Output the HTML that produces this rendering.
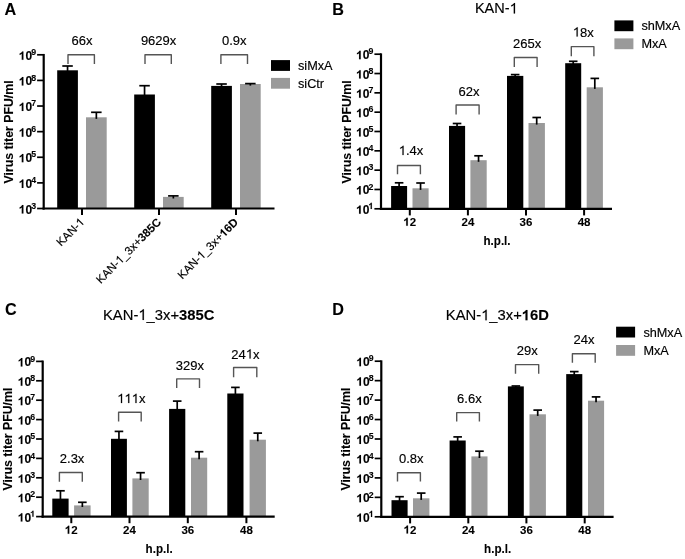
<!DOCTYPE html>
<html><head><meta charset="utf-8"><title>Virus titer figure</title>
<style>
html,body{margin:0;padding:0;background:#fff;}
body{width:685px;height:559px;overflow:hidden;}
svg{display:block;will-change:transform;}
text{font-family:"Liberation Sans", sans-serif;fill:#000;stroke:#000;stroke-width:0.15px;}
text[font-weight="bold"],tspan[font-weight="bold"]{stroke-width:0.1px;}
</style></head>
<body>
<svg width="685" height="559" viewBox="0 0 685 559">
<rect x="0" y="0" width="685" height="559" fill="#fff"/>
<text x="4.60" y="14.80" font-size="16.2" font-weight="bold" text-anchor="start" >A</text>
<text transform="translate(13.20,131.90) rotate(-90)" font-size="12.3" font-weight="bold" text-anchor="middle">Virus titer PFU/ml</text>
<line x1="43.70" y1="53.95" x2="43.70" y2="209.60" stroke="#000" stroke-width="2.2" stroke-linecap="butt"/>
<line x1="37.10" y1="54.80" x2="43.70" y2="54.80" stroke="#000" stroke-width="1.7" stroke-linecap="butt"/>
<text x="36.10" y="59.80" font-size="12" font-weight="bold" text-anchor="end"> 0<tspan font-size="8.8" dx="-1.0" dy="-4.8">9</tspan></text>
<line x1="37.10" y1="80.42" x2="43.70" y2="80.42" stroke="#000" stroke-width="1.7" stroke-linecap="butt"/>
<text x="36.10" y="85.42" font-size="12" font-weight="bold" text-anchor="end"> 0<tspan font-size="8.8" dx="-1.0" dy="-4.8">8</tspan></text>
<line x1="37.10" y1="106.03" x2="43.70" y2="106.03" stroke="#000" stroke-width="1.7" stroke-linecap="butt"/>
<text x="36.10" y="111.03" font-size="12" font-weight="bold" text-anchor="end"> 0<tspan font-size="8.8" dx="-1.0" dy="-4.8">7</tspan></text>
<line x1="37.10" y1="131.65" x2="43.70" y2="131.65" stroke="#000" stroke-width="1.7" stroke-linecap="butt"/>
<text x="36.10" y="136.65" font-size="12" font-weight="bold" text-anchor="end"> 0<tspan font-size="8.8" dx="-1.0" dy="-4.8">6</tspan></text>
<line x1="37.10" y1="157.27" x2="43.70" y2="157.27" stroke="#000" stroke-width="1.7" stroke-linecap="butt"/>
<text x="36.10" y="162.27" font-size="12" font-weight="bold" text-anchor="end"> 0<tspan font-size="8.8" dx="-1.0" dy="-4.8">5</tspan></text>
<line x1="37.10" y1="182.88" x2="43.70" y2="182.88" stroke="#000" stroke-width="1.7" stroke-linecap="butt"/>
<text x="36.10" y="187.88" font-size="12" font-weight="bold" text-anchor="end"> 0<tspan font-size="8.8" dx="-1.0" dy="-4.8">4</tspan></text>
<line x1="37.10" y1="208.50" x2="43.70" y2="208.50" stroke="#000" stroke-width="1.7" stroke-linecap="butt"/>
<text x="36.10" y="213.50" font-size="12" font-weight="bold" text-anchor="end"> 0<tspan font-size="8.8" dx="-1.0" dy="-4.8">3</tspan></text>
<rect x="57.20" y="70.30" width="20.70" height="138.20" fill="#000"/>
<line x1="67.55" y1="66.00" x2="67.55" y2="71.90" stroke="#000" stroke-width="1.7" stroke-linecap="butt"/>
<line x1="62.30" y1="66.00" x2="72.80" y2="66.00" stroke="#000" stroke-width="1.7" stroke-linecap="butt"/>
<rect x="86.00" y="117.30" width="20.70" height="91.20" fill="#9a9a9a"/>
<line x1="96.35" y1="112.30" x2="96.35" y2="118.90" stroke="#000" stroke-width="1.7" stroke-linecap="butt"/>
<line x1="91.10" y1="112.30" x2="101.60" y2="112.30" stroke="#000" stroke-width="1.7" stroke-linecap="butt"/>
<rect x="134.20" y="94.50" width="20.70" height="114.00" fill="#000"/>
<line x1="144.55" y1="85.70" x2="144.55" y2="96.10" stroke="#000" stroke-width="1.7" stroke-linecap="butt"/>
<line x1="139.30" y1="85.70" x2="149.80" y2="85.70" stroke="#000" stroke-width="1.7" stroke-linecap="butt"/>
<rect x="163.00" y="196.90" width="20.70" height="11.60" fill="#9a9a9a"/>
<line x1="173.35" y1="195.90" x2="173.35" y2="198.50" stroke="#000" stroke-width="1.7" stroke-linecap="butt"/>
<line x1="168.10" y1="195.90" x2="178.60" y2="195.90" stroke="#000" stroke-width="1.7" stroke-linecap="butt"/>
<rect x="211.20" y="85.90" width="20.70" height="122.60" fill="#000"/>
<line x1="221.55" y1="84.00" x2="221.55" y2="87.50" stroke="#000" stroke-width="1.7" stroke-linecap="butt"/>
<line x1="216.30" y1="84.00" x2="226.80" y2="84.00" stroke="#000" stroke-width="1.7" stroke-linecap="butt"/>
<rect x="240.00" y="84.00" width="20.70" height="124.50" fill="#9a9a9a"/>
<line x1="250.35" y1="83.60" x2="250.35" y2="85.60" stroke="#000" stroke-width="1.7" stroke-linecap="butt"/>
<line x1="245.10" y1="83.60" x2="255.60" y2="83.60" stroke="#000" stroke-width="1.7" stroke-linecap="butt"/>
<line x1="42.60" y1="208.50" x2="274.50" y2="208.50" stroke="#000" stroke-width="2.2" stroke-linecap="butt"/>
<line x1="82.00" y1="208.50" x2="82.00" y2="215.10" stroke="#000" stroke-width="2" stroke-linecap="butt"/>
<line x1="159.00" y1="208.50" x2="159.00" y2="215.10" stroke="#000" stroke-width="2" stroke-linecap="butt"/>
<line x1="236.00" y1="208.50" x2="236.00" y2="215.10" stroke="#000" stroke-width="2" stroke-linecap="butt"/>
<path d="M68.00,64.10 V54.70 H94.40 V64.10" fill="none" stroke="#555" stroke-width="1.4" stroke-linejoin="round"/>
<text x="82.00" y="45.00" font-size="13" font-weight="normal" text-anchor="middle" >66x</text>
<path d="M145.00,64.10 V54.70 H171.30 V64.10" fill="none" stroke="#555" stroke-width="1.4" stroke-linejoin="round"/>
<text x="158.60" y="45.00" font-size="13" font-weight="normal" text-anchor="middle" >9629x</text>
<path d="M220.90,64.10 V54.70 H247.50 V64.10" fill="none" stroke="#555" stroke-width="1.4" stroke-linejoin="round"/>
<text x="234.30" y="45.00" font-size="13" font-weight="normal" text-anchor="middle" >0.9x</text>
<rect x="271.00" y="60.10" width="19.00" height="10.80" fill="#000"/>
<rect x="271.00" y="77.90" width="19.00" height="10.80" fill="#9a9a9a"/>
<text x="298.00" y="69.90" font-size="12.7" font-weight="normal" text-anchor="start" >siMxA</text>
<text x="298.00" y="87.70" font-size="12.7" font-weight="normal" text-anchor="start" >siCtr</text>
<text transform="translate(85.00,222.90) rotate(-45)" font-size="11.5" text-anchor="end">KAN- </text>
<text transform="translate(162.00,222.90) rotate(-45)" font-size="11.5" text-anchor="end">KAN- _3x+<tspan font-weight="bold">385C</tspan></text>
<text transform="translate(239.00,222.90) rotate(-45)" font-size="11.5" text-anchor="end">KAN- _3x+<tspan font-weight="bold"> 6D</tspan></text>
<text x="332.20" y="14.80" font-size="16.2" font-weight="bold" text-anchor="start" >B</text>
<text x="496.30" y="13.40" font-size="14.5" font-weight="normal" text-anchor="middle" >KAN- </text>
<text transform="translate(350.60,131.90) rotate(-90)" font-size="12.3" font-weight="bold" text-anchor="middle">Virus titer PFU/ml</text>
<line x1="381.00" y1="53.35" x2="381.00" y2="209.90" stroke="#000" stroke-width="2.2" stroke-linecap="butt"/>
<line x1="374.40" y1="54.20" x2="381.00" y2="54.20" stroke="#000" stroke-width="1.7" stroke-linecap="butt"/>
<text x="373.40" y="59.20" font-size="12" font-weight="bold" text-anchor="end"> 0<tspan font-size="8.8" dx="-1.0" dy="-4.8">9</tspan></text>
<line x1="374.40" y1="73.53" x2="381.00" y2="73.53" stroke="#000" stroke-width="1.7" stroke-linecap="butt"/>
<text x="373.40" y="78.53" font-size="12" font-weight="bold" text-anchor="end"> 0<tspan font-size="8.8" dx="-1.0" dy="-4.8">8</tspan></text>
<line x1="374.40" y1="92.85" x2="381.00" y2="92.85" stroke="#000" stroke-width="1.7" stroke-linecap="butt"/>
<text x="373.40" y="97.85" font-size="12" font-weight="bold" text-anchor="end"> 0<tspan font-size="8.8" dx="-1.0" dy="-4.8">7</tspan></text>
<line x1="374.40" y1="112.18" x2="381.00" y2="112.18" stroke="#000" stroke-width="1.7" stroke-linecap="butt"/>
<text x="373.40" y="117.18" font-size="12" font-weight="bold" text-anchor="end"> 0<tspan font-size="8.8" dx="-1.0" dy="-4.8">6</tspan></text>
<line x1="374.40" y1="131.50" x2="381.00" y2="131.50" stroke="#000" stroke-width="1.7" stroke-linecap="butt"/>
<text x="373.40" y="136.50" font-size="12" font-weight="bold" text-anchor="end"> 0<tspan font-size="8.8" dx="-1.0" dy="-4.8">5</tspan></text>
<line x1="374.40" y1="150.83" x2="381.00" y2="150.83" stroke="#000" stroke-width="1.7" stroke-linecap="butt"/>
<text x="373.40" y="155.83" font-size="12" font-weight="bold" text-anchor="end"> 0<tspan font-size="8.8" dx="-1.0" dy="-4.8">4</tspan></text>
<line x1="374.40" y1="170.15" x2="381.00" y2="170.15" stroke="#000" stroke-width="1.7" stroke-linecap="butt"/>
<text x="373.40" y="175.15" font-size="12" font-weight="bold" text-anchor="end"> 0<tspan font-size="8.8" dx="-1.0" dy="-4.8">3</tspan></text>
<line x1="374.40" y1="189.48" x2="381.00" y2="189.48" stroke="#000" stroke-width="1.7" stroke-linecap="butt"/>
<text x="373.40" y="194.48" font-size="12" font-weight="bold" text-anchor="end"> 0<tspan font-size="8.8" dx="-1.0" dy="-4.8">2</tspan></text>
<line x1="374.40" y1="208.80" x2="381.00" y2="208.80" stroke="#000" stroke-width="1.7" stroke-linecap="butt"/>
<text x="373.40" y="213.80" font-size="12" font-weight="bold" text-anchor="end"> 0<tspan font-size="8.8" dx="-1.0" dy="-4.8"> </tspan></text>
<rect x="391.10" y="186.00" width="16.00" height="22.80" fill="#000"/>
<line x1="399.10" y1="182.80" x2="399.10" y2="187.60" stroke="#000" stroke-width="1.7" stroke-linecap="butt"/>
<line x1="394.80" y1="182.80" x2="403.40" y2="182.80" stroke="#000" stroke-width="1.7" stroke-linecap="butt"/>
<rect x="412.50" y="188.30" width="16.10" height="20.50" fill="#9a9a9a"/>
<line x1="420.55" y1="183.00" x2="420.55" y2="189.90" stroke="#000" stroke-width="1.7" stroke-linecap="butt"/>
<line x1="416.25" y1="183.00" x2="424.85" y2="183.00" stroke="#000" stroke-width="1.7" stroke-linecap="butt"/>
<rect x="449.00" y="125.90" width="16.10" height="82.90" fill="#000"/>
<line x1="457.05" y1="123.50" x2="457.05" y2="127.50" stroke="#000" stroke-width="1.7" stroke-linecap="butt"/>
<line x1="452.75" y1="123.50" x2="461.35" y2="123.50" stroke="#000" stroke-width="1.7" stroke-linecap="butt"/>
<rect x="470.40" y="160.20" width="16.30" height="48.60" fill="#9a9a9a"/>
<line x1="478.55" y1="155.80" x2="478.55" y2="161.80" stroke="#000" stroke-width="1.7" stroke-linecap="butt"/>
<line x1="474.25" y1="155.80" x2="482.85" y2="155.80" stroke="#000" stroke-width="1.7" stroke-linecap="butt"/>
<rect x="507.00" y="75.90" width="16.30" height="132.90" fill="#000"/>
<line x1="515.15" y1="74.60" x2="515.15" y2="77.50" stroke="#000" stroke-width="1.7" stroke-linecap="butt"/>
<line x1="510.85" y1="74.60" x2="519.45" y2="74.60" stroke="#000" stroke-width="1.7" stroke-linecap="butt"/>
<rect x="528.50" y="123.00" width="16.40" height="85.80" fill="#9a9a9a"/>
<line x1="536.70" y1="117.50" x2="536.70" y2="124.60" stroke="#000" stroke-width="1.7" stroke-linecap="butt"/>
<line x1="532.40" y1="117.50" x2="541.00" y2="117.50" stroke="#000" stroke-width="1.7" stroke-linecap="butt"/>
<rect x="565.20" y="63.20" width="16.00" height="145.60" fill="#000"/>
<line x1="573.20" y1="61.30" x2="573.20" y2="64.80" stroke="#000" stroke-width="1.7" stroke-linecap="butt"/>
<line x1="568.90" y1="61.30" x2="577.50" y2="61.30" stroke="#000" stroke-width="1.7" stroke-linecap="butt"/>
<rect x="586.70" y="87.30" width="16.20" height="121.50" fill="#9a9a9a"/>
<line x1="594.80" y1="78.40" x2="594.80" y2="88.90" stroke="#000" stroke-width="1.7" stroke-linecap="butt"/>
<line x1="590.50" y1="78.40" x2="599.10" y2="78.40" stroke="#000" stroke-width="1.7" stroke-linecap="butt"/>
<line x1="379.90" y1="208.80" x2="612.00" y2="208.80" stroke="#000" stroke-width="2.2" stroke-linecap="butt"/>
<line x1="409.80" y1="208.80" x2="409.80" y2="215.40" stroke="#000" stroke-width="2" stroke-linecap="butt"/>
<text x="409.80" y="225.80" font-size="11.5" font-weight="bold" text-anchor="middle" > 2</text>
<line x1="467.90" y1="208.80" x2="467.90" y2="215.40" stroke="#000" stroke-width="2" stroke-linecap="butt"/>
<text x="467.90" y="225.80" font-size="11.5" font-weight="bold" text-anchor="middle" >24</text>
<line x1="526.00" y1="208.80" x2="526.00" y2="215.40" stroke="#000" stroke-width="2" stroke-linecap="butt"/>
<text x="526.00" y="225.80" font-size="11.5" font-weight="bold" text-anchor="middle" >36</text>
<line x1="584.10" y1="208.80" x2="584.10" y2="215.40" stroke="#000" stroke-width="2" stroke-linecap="butt"/>
<text x="584.10" y="225.80" font-size="11.5" font-weight="bold" text-anchor="middle" >48</text>
<text transform="translate(497.00,245.30) scale(0.895,1)" font-size="13" font-weight="bold" text-anchor="middle">h.p.l.</text>
<path d="M397.50,174.20 V165.50 H420.40 V174.20" fill="none" stroke="#555" stroke-width="1.4" stroke-linejoin="round"/>
<text x="411.00" y="155.10" font-size="13" font-weight="normal" text-anchor="middle" > .4x</text>
<path d="M456.10,114.60 V105.00 H479.10 V114.60" fill="none" stroke="#555" stroke-width="1.4" stroke-linejoin="round"/>
<text x="469.00" y="95.60" font-size="13" font-weight="normal" text-anchor="middle" >62x</text>
<path d="M514.30,67.00 V57.50 H537.10 V67.00" fill="none" stroke="#555" stroke-width="1.4" stroke-linejoin="round"/>
<text x="527.20" y="48.10" font-size="13" font-weight="normal" text-anchor="middle" >265x</text>
<path d="M571.30,56.20 V46.60 H593.90 V56.20" fill="none" stroke="#555" stroke-width="1.4" stroke-linejoin="round"/>
<text x="583.30" y="36.60" font-size="13" font-weight="normal" text-anchor="middle" > 8x</text>
<rect x="614.40" y="20.40" width="19.00" height="10.80" fill="#000"/>
<rect x="614.40" y="38.40" width="19.00" height="10.80" fill="#9a9a9a"/>
<text x="641.40" y="30.20" font-size="12.7" font-weight="normal" text-anchor="start" >shMxA</text>
<text x="641.40" y="48.20" font-size="12.7" font-weight="normal" text-anchor="start" >MxA</text>
<text x="5.00" y="315.30" font-size="16.2" font-weight="bold" text-anchor="start" >C</text>
<text x="158.7" y="319.9" font-size="14.8" text-anchor="middle">KAN- _3x+<tspan font-weight="bold">385C</tspan></text>
<text transform="translate(11.90,439.10) rotate(-90)" font-size="12.3" font-weight="bold" text-anchor="middle">Virus titer PFU/ml</text>
<line x1="42.70" y1="360.55" x2="42.70" y2="517.70" stroke="#000" stroke-width="2.2" stroke-linecap="butt"/>
<line x1="36.10" y1="361.40" x2="42.70" y2="361.40" stroke="#000" stroke-width="1.7" stroke-linecap="butt"/>
<text x="35.10" y="366.40" font-size="12" font-weight="bold" text-anchor="end"> 0<tspan font-size="8.8" dx="-1.0" dy="-4.8">9</tspan></text>
<line x1="36.10" y1="380.80" x2="42.70" y2="380.80" stroke="#000" stroke-width="1.7" stroke-linecap="butt"/>
<text x="35.10" y="385.80" font-size="12" font-weight="bold" text-anchor="end"> 0<tspan font-size="8.8" dx="-1.0" dy="-4.8">8</tspan></text>
<line x1="36.10" y1="400.20" x2="42.70" y2="400.20" stroke="#000" stroke-width="1.7" stroke-linecap="butt"/>
<text x="35.10" y="405.20" font-size="12" font-weight="bold" text-anchor="end"> 0<tspan font-size="8.8" dx="-1.0" dy="-4.8">7</tspan></text>
<line x1="36.10" y1="419.60" x2="42.70" y2="419.60" stroke="#000" stroke-width="1.7" stroke-linecap="butt"/>
<text x="35.10" y="424.60" font-size="12" font-weight="bold" text-anchor="end"> 0<tspan font-size="8.8" dx="-1.0" dy="-4.8">6</tspan></text>
<line x1="36.10" y1="439.00" x2="42.70" y2="439.00" stroke="#000" stroke-width="1.7" stroke-linecap="butt"/>
<text x="35.10" y="444.00" font-size="12" font-weight="bold" text-anchor="end"> 0<tspan font-size="8.8" dx="-1.0" dy="-4.8">5</tspan></text>
<line x1="36.10" y1="458.40" x2="42.70" y2="458.40" stroke="#000" stroke-width="1.7" stroke-linecap="butt"/>
<text x="35.10" y="463.40" font-size="12" font-weight="bold" text-anchor="end"> 0<tspan font-size="8.8" dx="-1.0" dy="-4.8">4</tspan></text>
<line x1="36.10" y1="477.80" x2="42.70" y2="477.80" stroke="#000" stroke-width="1.7" stroke-linecap="butt"/>
<text x="35.10" y="482.80" font-size="12" font-weight="bold" text-anchor="end"> 0<tspan font-size="8.8" dx="-1.0" dy="-4.8">3</tspan></text>
<line x1="36.10" y1="497.20" x2="42.70" y2="497.20" stroke="#000" stroke-width="1.7" stroke-linecap="butt"/>
<text x="35.10" y="502.20" font-size="12" font-weight="bold" text-anchor="end"> 0<tspan font-size="8.8" dx="-1.0" dy="-4.8">2</tspan></text>
<line x1="36.10" y1="516.60" x2="42.70" y2="516.60" stroke="#000" stroke-width="1.7" stroke-linecap="butt"/>
<text x="35.10" y="521.60" font-size="12" font-weight="bold" text-anchor="end"> 0<tspan font-size="8.8" dx="-1.0" dy="-4.8"> </tspan></text>
<rect x="52.30" y="498.60" width="16.30" height="18.00" fill="#000"/>
<line x1="60.45" y1="490.80" x2="60.45" y2="500.20" stroke="#000" stroke-width="1.7" stroke-linecap="butt"/>
<line x1="56.15" y1="490.80" x2="64.75" y2="490.80" stroke="#000" stroke-width="1.7" stroke-linecap="butt"/>
<rect x="74.10" y="505.40" width="16.50" height="11.20" fill="#9a9a9a"/>
<line x1="82.35" y1="502.30" x2="82.35" y2="507.00" stroke="#000" stroke-width="1.7" stroke-linecap="butt"/>
<line x1="78.05" y1="502.30" x2="86.65" y2="502.30" stroke="#000" stroke-width="1.7" stroke-linecap="butt"/>
<rect x="111.00" y="438.80" width="15.90" height="77.80" fill="#000"/>
<line x1="118.95" y1="431.40" x2="118.95" y2="440.40" stroke="#000" stroke-width="1.7" stroke-linecap="butt"/>
<line x1="114.65" y1="431.40" x2="123.25" y2="431.40" stroke="#000" stroke-width="1.7" stroke-linecap="butt"/>
<rect x="132.40" y="478.40" width="16.30" height="38.20" fill="#9a9a9a"/>
<line x1="140.55" y1="472.70" x2="140.55" y2="480.00" stroke="#000" stroke-width="1.7" stroke-linecap="butt"/>
<line x1="136.25" y1="472.70" x2="144.85" y2="472.70" stroke="#000" stroke-width="1.7" stroke-linecap="butt"/>
<rect x="169.10" y="408.90" width="16.20" height="107.70" fill="#000"/>
<line x1="177.20" y1="401.10" x2="177.20" y2="410.50" stroke="#000" stroke-width="1.7" stroke-linecap="butt"/>
<line x1="172.90" y1="401.10" x2="181.50" y2="401.10" stroke="#000" stroke-width="1.7" stroke-linecap="butt"/>
<rect x="191.00" y="457.70" width="16.20" height="58.90" fill="#9a9a9a"/>
<line x1="199.10" y1="451.70" x2="199.10" y2="459.30" stroke="#000" stroke-width="1.7" stroke-linecap="butt"/>
<line x1="194.80" y1="451.70" x2="203.40" y2="451.70" stroke="#000" stroke-width="1.7" stroke-linecap="butt"/>
<rect x="227.30" y="393.50" width="16.20" height="123.10" fill="#000"/>
<line x1="235.40" y1="387.40" x2="235.40" y2="395.10" stroke="#000" stroke-width="1.7" stroke-linecap="butt"/>
<line x1="231.10" y1="387.40" x2="239.70" y2="387.40" stroke="#000" stroke-width="1.7" stroke-linecap="butt"/>
<rect x="249.60" y="439.70" width="16.30" height="76.90" fill="#9a9a9a"/>
<line x1="257.75" y1="433.10" x2="257.75" y2="441.30" stroke="#000" stroke-width="1.7" stroke-linecap="butt"/>
<line x1="253.45" y1="433.10" x2="262.05" y2="433.10" stroke="#000" stroke-width="1.7" stroke-linecap="butt"/>
<line x1="41.60" y1="516.60" x2="274.70" y2="516.60" stroke="#000" stroke-width="2.2" stroke-linecap="butt"/>
<line x1="71.30" y1="516.60" x2="71.30" y2="523.20" stroke="#000" stroke-width="2" stroke-linecap="butt"/>
<text x="71.30" y="533.80" font-size="11.5" font-weight="bold" text-anchor="middle" > 2</text>
<line x1="129.50" y1="516.60" x2="129.50" y2="523.20" stroke="#000" stroke-width="2" stroke-linecap="butt"/>
<text x="129.50" y="533.80" font-size="11.5" font-weight="bold" text-anchor="middle" >24</text>
<line x1="187.80" y1="516.60" x2="187.80" y2="523.20" stroke="#000" stroke-width="2" stroke-linecap="butt"/>
<text x="187.80" y="533.80" font-size="11.5" font-weight="bold" text-anchor="middle" >36</text>
<line x1="246.40" y1="516.60" x2="246.40" y2="523.20" stroke="#000" stroke-width="2" stroke-linecap="butt"/>
<text x="246.40" y="533.80" font-size="11.5" font-weight="bold" text-anchor="middle" >48</text>
<text transform="translate(159.10,553.40) scale(0.895,1)" font-size="13" font-weight="bold" text-anchor="middle">h.p.l.</text>
<path d="M59.40,481.80 V472.50 H82.30 V481.80" fill="none" stroke="#555" stroke-width="1.4" stroke-linejoin="round"/>
<text x="72.10" y="463.40" font-size="13" font-weight="normal" text-anchor="middle" >2.3x</text>
<path d="M118.60,421.50 V412.30 H141.20 V421.50" fill="none" stroke="#555" stroke-width="1.4" stroke-linejoin="round"/>
<text x="131.30" y="403.10" font-size="13" font-weight="normal" text-anchor="middle" >   x</text>
<path d="M176.70,388.00 V378.90 H199.50 V388.00" fill="none" stroke="#555" stroke-width="1.4" stroke-linejoin="round"/>
<text x="189.90" y="369.50" font-size="13" font-weight="normal" text-anchor="middle" >329x</text>
<path d="M233.60,377.20 V367.50 H256.80 V377.20" fill="none" stroke="#555" stroke-width="1.4" stroke-linejoin="round"/>
<text x="245.40" y="358.50" font-size="13" font-weight="normal" text-anchor="middle" >24 x</text>
<text x="332.20" y="315.10" font-size="16.2" font-weight="bold" text-anchor="start" >D</text>
<text x="497.4" y="320.3" font-size="14.8" text-anchor="middle">KAN- _3x+<tspan font-weight="bold"> 6D</tspan></text>
<text transform="translate(350.40,439.10) rotate(-90)" font-size="12.3" font-weight="bold" text-anchor="middle">Virus titer PFU/ml</text>
<line x1="381.30" y1="360.35" x2="381.30" y2="517.90" stroke="#000" stroke-width="2.2" stroke-linecap="butt"/>
<line x1="374.70" y1="361.20" x2="381.30" y2="361.20" stroke="#000" stroke-width="1.7" stroke-linecap="butt"/>
<text x="373.70" y="366.20" font-size="12" font-weight="bold" text-anchor="end"> 0<tspan font-size="8.8" dx="-1.0" dy="-4.8">9</tspan></text>
<line x1="374.70" y1="380.65" x2="381.30" y2="380.65" stroke="#000" stroke-width="1.7" stroke-linecap="butt"/>
<text x="373.70" y="385.65" font-size="12" font-weight="bold" text-anchor="end"> 0<tspan font-size="8.8" dx="-1.0" dy="-4.8">8</tspan></text>
<line x1="374.70" y1="400.10" x2="381.30" y2="400.10" stroke="#000" stroke-width="1.7" stroke-linecap="butt"/>
<text x="373.70" y="405.10" font-size="12" font-weight="bold" text-anchor="end"> 0<tspan font-size="8.8" dx="-1.0" dy="-4.8">7</tspan></text>
<line x1="374.70" y1="419.55" x2="381.30" y2="419.55" stroke="#000" stroke-width="1.7" stroke-linecap="butt"/>
<text x="373.70" y="424.55" font-size="12" font-weight="bold" text-anchor="end"> 0<tspan font-size="8.8" dx="-1.0" dy="-4.8">6</tspan></text>
<line x1="374.70" y1="439.00" x2="381.30" y2="439.00" stroke="#000" stroke-width="1.7" stroke-linecap="butt"/>
<text x="373.70" y="444.00" font-size="12" font-weight="bold" text-anchor="end"> 0<tspan font-size="8.8" dx="-1.0" dy="-4.8">5</tspan></text>
<line x1="374.70" y1="458.45" x2="381.30" y2="458.45" stroke="#000" stroke-width="1.7" stroke-linecap="butt"/>
<text x="373.70" y="463.45" font-size="12" font-weight="bold" text-anchor="end"> 0<tspan font-size="8.8" dx="-1.0" dy="-4.8">4</tspan></text>
<line x1="374.70" y1="477.90" x2="381.30" y2="477.90" stroke="#000" stroke-width="1.7" stroke-linecap="butt"/>
<text x="373.70" y="482.90" font-size="12" font-weight="bold" text-anchor="end"> 0<tspan font-size="8.8" dx="-1.0" dy="-4.8">3</tspan></text>
<line x1="374.70" y1="497.35" x2="381.30" y2="497.35" stroke="#000" stroke-width="1.7" stroke-linecap="butt"/>
<text x="373.70" y="502.35" font-size="12" font-weight="bold" text-anchor="end"> 0<tspan font-size="8.8" dx="-1.0" dy="-4.8">2</tspan></text>
<line x1="374.70" y1="516.80" x2="381.30" y2="516.80" stroke="#000" stroke-width="1.7" stroke-linecap="butt"/>
<text x="373.70" y="521.80" font-size="12" font-weight="bold" text-anchor="end"> 0<tspan font-size="8.8" dx="-1.0" dy="-4.8"> </tspan></text>
<rect x="391.50" y="500.20" width="16.10" height="16.60" fill="#000"/>
<line x1="399.55" y1="496.70" x2="399.55" y2="501.80" stroke="#000" stroke-width="1.7" stroke-linecap="butt"/>
<line x1="395.25" y1="496.70" x2="403.85" y2="496.70" stroke="#000" stroke-width="1.7" stroke-linecap="butt"/>
<rect x="413.00" y="498.30" width="16.40" height="18.50" fill="#9a9a9a"/>
<line x1="421.20" y1="493.10" x2="421.20" y2="499.90" stroke="#000" stroke-width="1.7" stroke-linecap="butt"/>
<line x1="416.90" y1="493.10" x2="425.50" y2="493.10" stroke="#000" stroke-width="1.7" stroke-linecap="butt"/>
<rect x="449.60" y="440.50" width="16.10" height="76.30" fill="#000"/>
<line x1="457.65" y1="436.90" x2="457.65" y2="442.10" stroke="#000" stroke-width="1.7" stroke-linecap="butt"/>
<line x1="453.35" y1="436.90" x2="461.95" y2="436.90" stroke="#000" stroke-width="1.7" stroke-linecap="butt"/>
<rect x="471.40" y="456.40" width="16.10" height="60.40" fill="#9a9a9a"/>
<line x1="479.45" y1="451.20" x2="479.45" y2="458.00" stroke="#000" stroke-width="1.7" stroke-linecap="butt"/>
<line x1="475.15" y1="451.20" x2="483.75" y2="451.20" stroke="#000" stroke-width="1.7" stroke-linecap="butt"/>
<rect x="507.90" y="386.40" width="15.90" height="130.40" fill="#000"/>
<line x1="515.85" y1="386.00" x2="515.85" y2="388.00" stroke="#000" stroke-width="1.7" stroke-linecap="butt"/>
<line x1="511.55" y1="386.00" x2="520.15" y2="386.00" stroke="#000" stroke-width="1.7" stroke-linecap="butt"/>
<rect x="529.50" y="414.30" width="16.40" height="102.50" fill="#9a9a9a"/>
<line x1="537.70" y1="410.10" x2="537.70" y2="415.90" stroke="#000" stroke-width="1.7" stroke-linecap="butt"/>
<line x1="533.40" y1="410.10" x2="542.00" y2="410.10" stroke="#000" stroke-width="1.7" stroke-linecap="butt"/>
<rect x="566.20" y="374.10" width="16.10" height="142.70" fill="#000"/>
<line x1="574.25" y1="371.60" x2="574.25" y2="375.70" stroke="#000" stroke-width="1.7" stroke-linecap="butt"/>
<line x1="569.95" y1="371.60" x2="578.55" y2="371.60" stroke="#000" stroke-width="1.7" stroke-linecap="butt"/>
<rect x="588.00" y="400.70" width="16.10" height="116.10" fill="#9a9a9a"/>
<line x1="596.05" y1="396.90" x2="596.05" y2="402.30" stroke="#000" stroke-width="1.7" stroke-linecap="butt"/>
<line x1="591.75" y1="396.90" x2="600.35" y2="396.90" stroke="#000" stroke-width="1.7" stroke-linecap="butt"/>
<line x1="380.20" y1="516.80" x2="613.60" y2="516.80" stroke="#000" stroke-width="2.2" stroke-linecap="butt"/>
<line x1="410.10" y1="516.80" x2="410.10" y2="523.40" stroke="#000" stroke-width="2" stroke-linecap="butt"/>
<text x="410.10" y="533.60" font-size="11.5" font-weight="bold" text-anchor="middle" > 2</text>
<line x1="468.30" y1="516.80" x2="468.30" y2="523.40" stroke="#000" stroke-width="2" stroke-linecap="butt"/>
<text x="468.30" y="533.60" font-size="11.5" font-weight="bold" text-anchor="middle" >24</text>
<line x1="526.40" y1="516.80" x2="526.40" y2="523.40" stroke="#000" stroke-width="2" stroke-linecap="butt"/>
<text x="526.40" y="533.60" font-size="11.5" font-weight="bold" text-anchor="middle" >36</text>
<line x1="584.70" y1="516.80" x2="584.70" y2="523.40" stroke="#000" stroke-width="2" stroke-linecap="butt"/>
<text x="584.70" y="533.60" font-size="11.5" font-weight="bold" text-anchor="middle" >48</text>
<text transform="translate(497.60,553.40) scale(0.895,1)" font-size="13" font-weight="bold" text-anchor="middle">h.p.l.</text>
<path d="M397.50,481.60 V472.70 H420.40 V481.60" fill="none" stroke="#555" stroke-width="1.4" stroke-linejoin="round"/>
<text x="411.20" y="463.30" font-size="13" font-weight="normal" text-anchor="middle" >0.8x</text>
<path d="M456.70,421.40 V412.60 H479.40 V421.40" fill="none" stroke="#555" stroke-width="1.4" stroke-linejoin="round"/>
<text x="469.40" y="402.50" font-size="13" font-weight="normal" text-anchor="middle" >6.6x</text>
<path d="M515.50,373.70 V364.60 H538.70 V373.70" fill="none" stroke="#555" stroke-width="1.4" stroke-linejoin="round"/>
<text x="527.30" y="354.60" font-size="13" font-weight="normal" text-anchor="middle" >29x</text>
<path d="M572.40,362.70 V353.80 H595.20 V362.70" fill="none" stroke="#555" stroke-width="1.4" stroke-linejoin="round"/>
<text x="584.00" y="343.80" font-size="13" font-weight="normal" text-anchor="middle" >24x</text>
<rect x="616.10" y="326.70" width="19.00" height="10.80" fill="#000"/>
<rect x="616.10" y="345.00" width="19.00" height="10.80" fill="#9a9a9a"/>
<text x="643.40" y="336.50" font-size="12.7" font-weight="normal" text-anchor="start" >shMxA</text>
<text x="643.40" y="354.80" font-size="12.7" font-weight="normal" text-anchor="start" >MxA</text>
<path transform="translate(18.834,59.800) scale(0.00586,-0.00586)" d="M780,0L499,0L499,1030Q345,890 136,825L136,1070Q246,1106 375,1203Q504,1300 552,1430L780,1430Z" fill="#000" stroke="#000" stroke-width="17.1"/>
<path transform="translate(18.834,85.420) scale(0.00586,-0.00586)" d="M780,0L499,0L499,1030Q345,890 136,825L136,1070Q246,1106 375,1203Q504,1300 552,1430L780,1430Z" fill="#000" stroke="#000" stroke-width="17.1"/>
<path transform="translate(18.834,111.030) scale(0.00586,-0.00586)" d="M780,0L499,0L499,1030Q345,890 136,825L136,1070Q246,1106 375,1203Q504,1300 552,1430L780,1430Z" fill="#000" stroke="#000" stroke-width="17.1"/>
<path transform="translate(18.834,136.650) scale(0.00586,-0.00586)" d="M780,0L499,0L499,1030Q345,890 136,825L136,1070Q246,1106 375,1203Q504,1300 552,1430L780,1430Z" fill="#000" stroke="#000" stroke-width="17.1"/>
<path transform="translate(18.834,162.270) scale(0.00586,-0.00586)" d="M780,0L499,0L499,1030Q345,890 136,825L136,1070Q246,1106 375,1203Q504,1300 552,1430L780,1430Z" fill="#000" stroke="#000" stroke-width="17.1"/>
<path transform="translate(18.834,187.880) scale(0.00586,-0.00586)" d="M780,0L499,0L499,1030Q345,890 136,825L136,1070Q246,1106 375,1203Q504,1300 552,1430L780,1430Z" fill="#000" stroke="#000" stroke-width="17.1"/>
<path transform="translate(18.834,213.500) scale(0.00586,-0.00586)" d="M780,0L499,0L499,1030Q345,890 136,825L136,1070Q246,1106 375,1203Q504,1300 552,1430L780,1430Z" fill="#000" stroke="#000" stroke-width="17.1"/>
<path transform="translate(85.00,222.90) rotate(-45) translate(-6.406,0.000) scale(0.00562,-0.00562)" d="M770,0L590,0L590,1180Q525,1120 419,1060Q313,1000 229,975L229,1145Q380,1210 493,1300Q606,1390 653,1460L770,1460Z" fill="#000" stroke="#000" stroke-width="26.7"/>
<path transform="translate(162.00,222.90) rotate(-45) translate(-59.172,0.000) scale(0.00562,-0.00562)" d="M770,0L590,0L590,1180Q525,1120 419,1060Q313,1000 229,975L229,1145Q380,1210 493,1300Q606,1390 653,1460L770,1460Z" fill="#000" stroke="#000" stroke-width="26.7"/>
<path transform="translate(239.00,222.90) rotate(-45) translate(-52.781,0.000) scale(0.00562,-0.00562)" d="M770,0L590,0L590,1180Q525,1120 419,1060Q313,1000 229,975L229,1145Q380,1210 493,1300Q606,1390 653,1460L770,1460Z" fill="#000" stroke="#000" stroke-width="26.7"/>
<path transform="translate(239.00,222.90) rotate(-45) translate(-21.109,0.000) scale(0.00562,-0.00562)" d="M780,0L499,0L499,1030Q345,890 136,825L136,1070Q246,1106 375,1203Q504,1300 552,1430L780,1430Z" fill="#000" stroke="#000" stroke-width="17.8"/>
<path transform="translate(509.581,13.400) scale(0.00708,-0.00708)" d="M770,0L590,0L590,1180Q525,1120 419,1060Q313,1000 229,975L229,1145Q380,1210 493,1300Q606,1390 653,1460L770,1460Z" fill="#000" stroke="#000" stroke-width="21.2"/>
<path transform="translate(356.134,59.200) scale(0.00586,-0.00586)" d="M780,0L499,0L499,1030Q345,890 136,825L136,1070Q246,1106 375,1203Q504,1300 552,1430L780,1430Z" fill="#000" stroke="#000" stroke-width="17.1"/>
<path transform="translate(356.134,78.530) scale(0.00586,-0.00586)" d="M780,0L499,0L499,1030Q345,890 136,825L136,1070Q246,1106 375,1203Q504,1300 552,1430L780,1430Z" fill="#000" stroke="#000" stroke-width="17.1"/>
<path transform="translate(356.134,97.850) scale(0.00586,-0.00586)" d="M780,0L499,0L499,1030Q345,890 136,825L136,1070Q246,1106 375,1203Q504,1300 552,1430L780,1430Z" fill="#000" stroke="#000" stroke-width="17.1"/>
<path transform="translate(356.134,117.180) scale(0.00586,-0.00586)" d="M780,0L499,0L499,1030Q345,890 136,825L136,1070Q246,1106 375,1203Q504,1300 552,1430L780,1430Z" fill="#000" stroke="#000" stroke-width="17.1"/>
<path transform="translate(356.134,136.500) scale(0.00586,-0.00586)" d="M780,0L499,0L499,1030Q345,890 136,825L136,1070Q246,1106 375,1203Q504,1300 552,1430L780,1430Z" fill="#000" stroke="#000" stroke-width="17.1"/>
<path transform="translate(356.134,155.830) scale(0.00586,-0.00586)" d="M780,0L499,0L499,1030Q345,890 136,825L136,1070Q246,1106 375,1203Q504,1300 552,1430L780,1430Z" fill="#000" stroke="#000" stroke-width="17.1"/>
<path transform="translate(356.134,175.150) scale(0.00586,-0.00586)" d="M780,0L499,0L499,1030Q345,890 136,825L136,1070Q246,1106 375,1203Q504,1300 552,1430L780,1430Z" fill="#000" stroke="#000" stroke-width="17.1"/>
<path transform="translate(356.134,194.480) scale(0.00586,-0.00586)" d="M780,0L499,0L499,1030Q345,890 136,825L136,1070Q246,1106 375,1203Q504,1300 552,1430L780,1430Z" fill="#000" stroke="#000" stroke-width="17.1"/>
<path transform="translate(356.134,213.800) scale(0.00586,-0.00586)" d="M780,0L499,0L499,1030Q345,890 136,825L136,1070Q246,1106 375,1203Q504,1300 552,1430L780,1430Z" fill="#000" stroke="#000" stroke-width="17.1"/>
<path transform="translate(368.494,209.000) scale(0.00430,-0.00430)" d="M780,0L499,0L499,1030Q345,890 136,825L136,1070Q246,1106 375,1203Q504,1300 552,1430L780,1430Z" fill="#000" stroke="#000" stroke-width="23.3"/>
<path transform="translate(403.402,225.800) scale(0.00562,-0.00562)" d="M780,0L499,0L499,1030Q345,890 136,825L136,1070Q246,1106 375,1203Q504,1300 552,1430L780,1430Z" fill="#000" stroke="#000" stroke-width="17.8"/>
<path transform="translate(398.711,155.100) scale(0.00635,-0.00635)" d="M770,0L590,0L590,1180Q525,1120 419,1060Q313,1000 229,975L229,1145Q380,1210 493,1300Q606,1390 653,1460L770,1460Z" fill="#000" stroke="#000" stroke-width="23.6"/>
<path transform="translate(572.816,36.600) scale(0.00635,-0.00635)" d="M770,0L590,0L590,1180Q525,1120 419,1060Q313,1000 229,975L229,1145Q380,1210 493,1300Q606,1390 653,1460L770,1460Z" fill="#000" stroke="#000" stroke-width="23.6"/>
<path transform="translate(138.309,319.900) scale(0.00723,-0.00723)" d="M770,0L590,0L590,1180Q525,1120 419,1060Q313,1000 229,975L229,1145Q380,1210 493,1300Q606,1390 653,1460L770,1460Z" fill="#000" stroke="#000" stroke-width="20.8"/>
<path transform="translate(17.834,366.400) scale(0.00586,-0.00586)" d="M780,0L499,0L499,1030Q345,890 136,825L136,1070Q246,1106 375,1203Q504,1300 552,1430L780,1430Z" fill="#000" stroke="#000" stroke-width="17.1"/>
<path transform="translate(17.834,385.800) scale(0.00586,-0.00586)" d="M780,0L499,0L499,1030Q345,890 136,825L136,1070Q246,1106 375,1203Q504,1300 552,1430L780,1430Z" fill="#000" stroke="#000" stroke-width="17.1"/>
<path transform="translate(17.834,405.200) scale(0.00586,-0.00586)" d="M780,0L499,0L499,1030Q345,890 136,825L136,1070Q246,1106 375,1203Q504,1300 552,1430L780,1430Z" fill="#000" stroke="#000" stroke-width="17.1"/>
<path transform="translate(17.834,424.600) scale(0.00586,-0.00586)" d="M780,0L499,0L499,1030Q345,890 136,825L136,1070Q246,1106 375,1203Q504,1300 552,1430L780,1430Z" fill="#000" stroke="#000" stroke-width="17.1"/>
<path transform="translate(17.834,444.000) scale(0.00586,-0.00586)" d="M780,0L499,0L499,1030Q345,890 136,825L136,1070Q246,1106 375,1203Q504,1300 552,1430L780,1430Z" fill="#000" stroke="#000" stroke-width="17.1"/>
<path transform="translate(17.834,463.400) scale(0.00586,-0.00586)" d="M780,0L499,0L499,1030Q345,890 136,825L136,1070Q246,1106 375,1203Q504,1300 552,1430L780,1430Z" fill="#000" stroke="#000" stroke-width="17.1"/>
<path transform="translate(17.834,482.800) scale(0.00586,-0.00586)" d="M780,0L499,0L499,1030Q345,890 136,825L136,1070Q246,1106 375,1203Q504,1300 552,1430L780,1430Z" fill="#000" stroke="#000" stroke-width="17.1"/>
<path transform="translate(17.834,502.200) scale(0.00586,-0.00586)" d="M780,0L499,0L499,1030Q345,890 136,825L136,1070Q246,1106 375,1203Q504,1300 552,1430L780,1430Z" fill="#000" stroke="#000" stroke-width="17.1"/>
<path transform="translate(17.834,521.600) scale(0.00586,-0.00586)" d="M780,0L499,0L499,1030Q345,890 136,825L136,1070Q246,1106 375,1203Q504,1300 552,1430L780,1430Z" fill="#000" stroke="#000" stroke-width="17.1"/>
<path transform="translate(30.194,516.800) scale(0.00430,-0.00430)" d="M780,0L499,0L499,1030Q345,890 136,825L136,1070Q246,1106 375,1203Q504,1300 552,1430L780,1430Z" fill="#000" stroke="#000" stroke-width="23.3"/>
<path transform="translate(64.902,533.800) scale(0.00562,-0.00562)" d="M780,0L499,0L499,1030Q345,890 136,825L136,1070Q246,1106 375,1203Q504,1300 552,1430L780,1430Z" fill="#000" stroke="#000" stroke-width="17.8"/>
<path transform="translate(117.198,403.100) scale(0.00635,-0.00635)" d="M770,0L590,0L590,1180Q525,1120 419,1060Q313,1000 229,975L229,1145Q380,1210 493,1300Q606,1390 653,1460L770,1460Z" fill="#000" stroke="#000" stroke-width="23.6"/>
<path transform="translate(124.417,403.100) scale(0.00635,-0.00635)" d="M770,0L590,0L590,1180Q525,1120 419,1060Q313,1000 229,975L229,1145Q380,1210 493,1300Q606,1390 653,1460L770,1460Z" fill="#000" stroke="#000" stroke-width="23.6"/>
<path transform="translate(131.652,403.100) scale(0.00635,-0.00635)" d="M770,0L590,0L590,1180Q525,1120 419,1060Q313,1000 229,975L229,1145Q380,1210 493,1300Q606,1390 653,1460L770,1460Z" fill="#000" stroke="#000" stroke-width="23.6"/>
<path transform="translate(245.752,358.500) scale(0.00635,-0.00635)" d="M770,0L590,0L590,1180Q525,1120 419,1060Q313,1000 229,975L229,1145Q380,1210 493,1300Q606,1390 653,1460L770,1460Z" fill="#000" stroke="#000" stroke-width="23.6"/>
<path transform="translate(481.119,320.300) scale(0.00723,-0.00723)" d="M770,0L590,0L590,1180Q525,1120 419,1060Q313,1000 229,975L229,1145Q380,1210 493,1300Q606,1390 653,1460L770,1460Z" fill="#000" stroke="#000" stroke-width="20.8"/>
<path transform="translate(521.869,320.300) scale(0.00723,-0.00723)" d="M780,0L499,0L499,1030Q345,890 136,825L136,1070Q246,1106 375,1203Q504,1300 552,1430L780,1430Z" fill="#000" stroke="#000" stroke-width="13.8"/>
<path transform="translate(356.434,366.200) scale(0.00586,-0.00586)" d="M780,0L499,0L499,1030Q345,890 136,825L136,1070Q246,1106 375,1203Q504,1300 552,1430L780,1430Z" fill="#000" stroke="#000" stroke-width="17.1"/>
<path transform="translate(356.434,385.650) scale(0.00586,-0.00586)" d="M780,0L499,0L499,1030Q345,890 136,825L136,1070Q246,1106 375,1203Q504,1300 552,1430L780,1430Z" fill="#000" stroke="#000" stroke-width="17.1"/>
<path transform="translate(356.434,405.100) scale(0.00586,-0.00586)" d="M780,0L499,0L499,1030Q345,890 136,825L136,1070Q246,1106 375,1203Q504,1300 552,1430L780,1430Z" fill="#000" stroke="#000" stroke-width="17.1"/>
<path transform="translate(356.434,424.550) scale(0.00586,-0.00586)" d="M780,0L499,0L499,1030Q345,890 136,825L136,1070Q246,1106 375,1203Q504,1300 552,1430L780,1430Z" fill="#000" stroke="#000" stroke-width="17.1"/>
<path transform="translate(356.434,444.000) scale(0.00586,-0.00586)" d="M780,0L499,0L499,1030Q345,890 136,825L136,1070Q246,1106 375,1203Q504,1300 552,1430L780,1430Z" fill="#000" stroke="#000" stroke-width="17.1"/>
<path transform="translate(356.434,463.450) scale(0.00586,-0.00586)" d="M780,0L499,0L499,1030Q345,890 136,825L136,1070Q246,1106 375,1203Q504,1300 552,1430L780,1430Z" fill="#000" stroke="#000" stroke-width="17.1"/>
<path transform="translate(356.434,482.900) scale(0.00586,-0.00586)" d="M780,0L499,0L499,1030Q345,890 136,825L136,1070Q246,1106 375,1203Q504,1300 552,1430L780,1430Z" fill="#000" stroke="#000" stroke-width="17.1"/>
<path transform="translate(356.434,502.350) scale(0.00586,-0.00586)" d="M780,0L499,0L499,1030Q345,890 136,825L136,1070Q246,1106 375,1203Q504,1300 552,1430L780,1430Z" fill="#000" stroke="#000" stroke-width="17.1"/>
<path transform="translate(356.434,521.800) scale(0.00586,-0.00586)" d="M780,0L499,0L499,1030Q345,890 136,825L136,1070Q246,1106 375,1203Q504,1300 552,1430L780,1430Z" fill="#000" stroke="#000" stroke-width="17.1"/>
<path transform="translate(368.794,517.000) scale(0.00430,-0.00430)" d="M780,0L499,0L499,1030Q345,890 136,825L136,1070Q246,1106 375,1203Q504,1300 552,1430L780,1430Z" fill="#000" stroke="#000" stroke-width="23.3"/>
<path transform="translate(403.702,533.600) scale(0.00562,-0.00562)" d="M780,0L499,0L499,1030Q345,890 136,825L136,1070Q246,1106 375,1203Q504,1300 552,1430L780,1430Z" fill="#000" stroke="#000" stroke-width="17.8"/>
</svg>
</body></html>
